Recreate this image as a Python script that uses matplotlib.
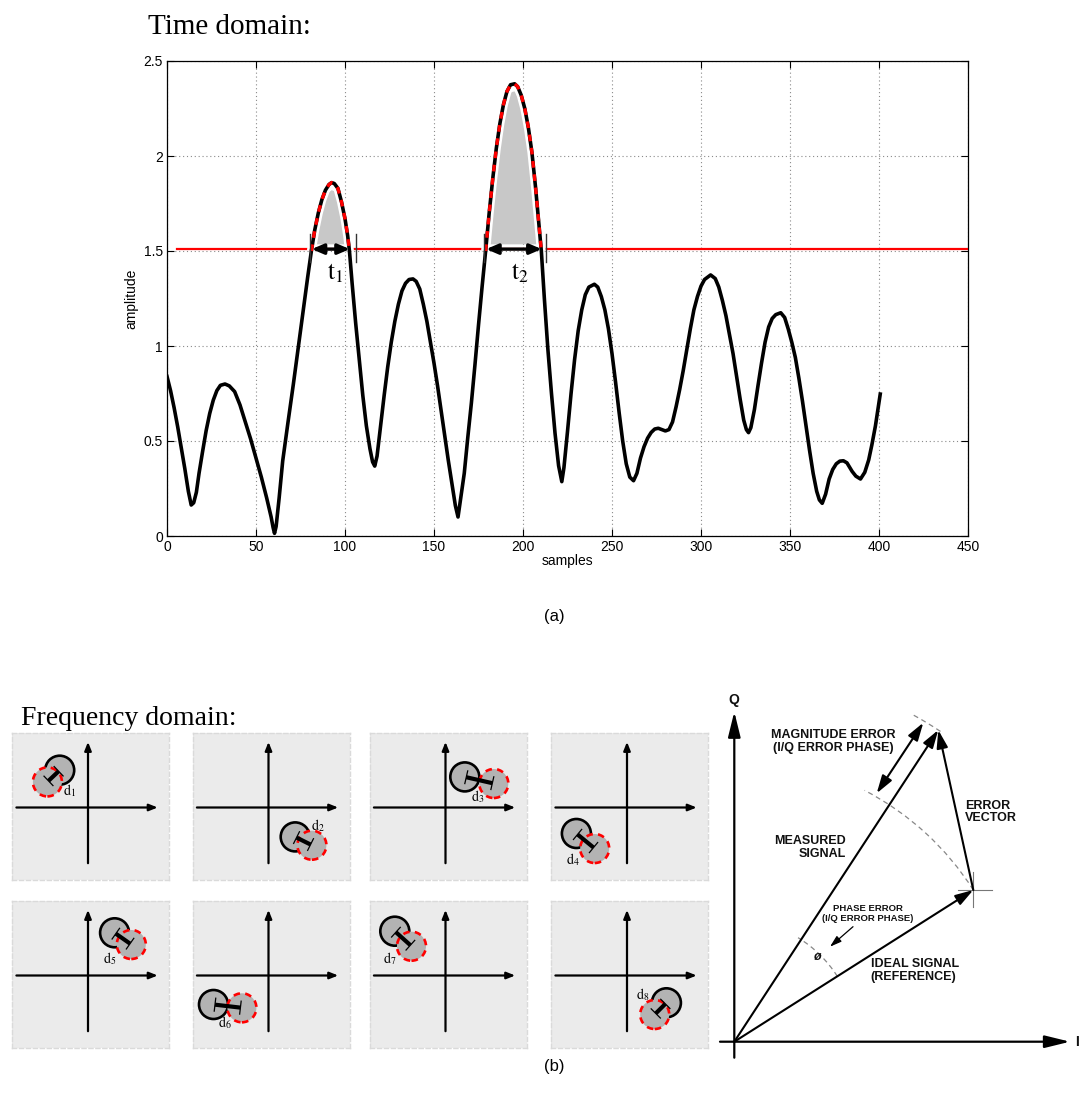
import numpy as np
import matplotlib
matplotlib.use("Agg")
import matplotlib.pyplot as plt
from matplotlib.patches import Circle, Arc

plt.rcParams['font.family'] = ['Liberation Sans', 'DejaVu Sans']
plt.rcParams['mathtext.fontset'] = 'stix'

W, H = 1086, 1106

# ---------------- time-domain trace ----------------
samples = [0, 2, 4, 6, 8, 10, 12, 13.6, 15, 16.5, 18, 20, 22, 24, 26, 28, 30, 32.6,
           35, 38, 41, 44, 47, 50, 53, 56, 58.5, 59.6, 60.4, 61.3, 63, 65, 68, 71, 74,
           77, 79, 81.1, 83, 85, 87, 89, 91, 92.5, 94, 96, 98, 100, 101.5, 102.5, 104,
           106, 108, 110, 112, 114, 115.5, 116.7, 118, 120, 122, 124, 126, 128, 130,
           132, 134, 136, 138.2, 140, 142, 144, 146, 148, 150, 152, 154, 156, 158, 160,
           162, 163.5, 165, 167, 169, 171, 173, 175, 177, 179, 181, 183, 185, 187, 189,
           191, 193, 195.3, 197, 199, 201, 203, 205, 207, 209, 210.3, 212, 214, 216,
           218, 220, 221.8, 223, 225, 227, 229, 231, 233, 235, 237, 240.1, 242, 244,
           246, 248, 250, 252, 254, 256, 258, 260, 262.1, 264, 266, 268, 270, 272, 274,
           276, 278, 280, 282, 284, 286, 288, 290, 292, 294, 296, 298, 300, 302, 305.4,
           308, 310, 312, 314, 316, 318, 320, 322, 324, 325.5, 326.7, 328, 330, 332,
           334, 336, 338, 340, 342, 344.8, 347, 349, 351, 353, 355, 357, 359, 361, 363,
           365, 366.5, 368.1, 370, 372, 374, 376, 378, 380, 382, 384.9, 387, 389.6, 392,
           394.2, 396, 398, 400.7]
amplitude = [0.84, 0.765, 0.675, 0.575, 0.465, 0.355, 0.235, 0.163, 0.175, 0.23, 0.33,
             0.445, 0.555, 0.645, 0.715, 0.765, 0.793, 0.80,
             0.79, 0.76, 0.69, 0.60, 0.51, 0.41, 0.31, 0.20, 0.10, 0.045, 0.014, 0.05,
             0.20, 0.395, 0.60, 0.80, 1.01,
             1.22, 1.36, 1.50, 1.61, 1.70, 1.77, 1.82, 1.85, 1.86, 1.855, 1.83, 1.76,
             1.67, 1.58, 1.50, 1.33,
             1.12, 0.93, 0.74, 0.58, 0.46, 0.39, 0.368, 0.42, 0.58, 0.74, 0.89, 1.02,
             1.13, 1.22,
             1.29, 1.33, 1.35, 1.353, 1.34, 1.30, 1.22, 1.13, 1.02, 0.91, 0.79, 0.66,
             0.53, 0.40, 0.28,
             0.16, 0.10, 0.20, 0.33, 0.52, 0.70, 0.90, 1.11, 1.31, 1.50, 1.70, 1.88,
             2.04, 2.17, 2.27,
             2.34, 2.375, 2.38, 2.365, 2.32, 2.25, 2.15, 2.02, 1.84, 1.63, 1.50, 1.25,
             0.98, 0.75,
             0.54, 0.37, 0.286, 0.36, 0.55, 0.75, 0.93, 1.08, 1.19, 1.27, 1.31, 1.325,
             1.31, 1.26,
             1.19, 1.09, 0.96, 0.81, 0.65, 0.50, 0.38, 0.31, 0.291, 0.33, 0.41, 0.47,
             0.515, 0.545, 0.563,
             0.567, 0.56, 0.553, 0.56, 0.60, 0.68, 0.77, 0.87, 0.98, 1.09, 1.19, 1.26,
             1.315, 1.35, 1.374,
             1.355, 1.31, 1.24, 1.16, 1.06, 0.96, 0.84, 0.72, 0.61, 0.56, 0.544, 0.57,
             0.665, 0.79,
             0.91, 1.02, 1.10, 1.145, 1.165, 1.175, 1.15, 1.09, 1.02, 0.94, 0.83, 0.71,
             0.58, 0.45, 0.33,
             0.235, 0.19, 0.172, 0.22, 0.30, 0.35, 0.38, 0.394, 0.396, 0.385, 0.34,
             0.315, 0.30, 0.335,
             0.40, 0.48, 0.58, 0.747]

threshold = 1.51
threshold_start = 5.5
x_ticks = [0, 50, 100, 150, 200, 250, 300, 350, 400, 450]
y_ticks = [0, 0.5, 1, 1.5, 2, 2.5]
y_tick_labels = ['0', '0.5', '1', '1.5', '2', '2.5']

# durations above the threshold
t_spans = [(81.3, 102.7), (179.3, 210.5)]
t_bars = [(80.5, 106.0), (178.0, 213.0)]
t_label_x = [94.4, 198.3]
t_labels = [r'$\mathrm{t}_1$', r'$\mathrm{t}_2$']

# ---------------- frequency-domain panels ----------------
black_centres = [(-28.3, 37.3), (26.7, -29.4), (19.3, 30.6), (-50.6, -26.0),
                 (26.6, 42.7), (-55.0, -29.0), (-50.7, 44.3), (39.4, -27.3)]
red_centres = [(-40.6, 25.6), (43.4, -37.7), (48.3, 24.0), (-32.3, -41.0),
               (43.3, 31.0), (-26.6, -32.3), (-34.0, 29.3), (27.7, -39.0)]
d_label_pos = [(-18, 17), (49.7, -17.7), (32.6, 11.3), (-54.6, -52),
               (21.6, 17), (-43.3, -47.3), (-55.7, 16.7), (16, -19)]
d_labels = [r'$\mathrm{d}_%d$' % k for k in range(1, 9)]

# ---------------- error-vector diagram ----------------
ideal_vec = (239.0, 151.7)
measured_vec = (204.0, 311.7)


def fx(px):
    return px / W


def fy(py):
    return 1 - py / H


fig = plt.figure(figsize=(W / 100, H / 100), dpi=100)

# ===== (a) time domain =====
fig.text(fx(148), fy(34), 'Time domain:', family='Liberation Serif', fontsize=21,
         ha='left', va='baseline')

ax = fig.add_axes([fx(167), fy(536), 801 / W, 475 / H])
x = np.array(samples)
y = np.array(amplitude)
ax.set_xlim(0, 450)
ax.set_ylim(0, 2.5)
ax.set_xticks(x_ticks)
ax.set_yticks(y_ticks)
ax.set_yticklabels(y_tick_labels)
ax.grid(True, linestyle=(0, (1, 2.5)), color='#8a8a8a', lw=0.8)
ax.set_axisbelow(True)
ax.tick_params(direction='in', top=True, right=True, length=5, width=0.8,
               labelsize=10, pad=3)
for s in ax.spines.values():
    s.set_linewidth(0.9)

ax.plot([threshold_start, 450], [threshold, threshold], color='red', lw=1.6, zorder=3)

top = y - 0.04
ax.fill_between(x, 1.535, top, where=top > 1.535, interpolate=True,
                color='#c8c8c8', lw=0, zorder=2)
peaks = np.where(y >= 1.5, y, np.nan)
ax.plot(x, peaks, color='white', lw=6.5, zorder=3.5, solid_capstyle='butt')
ax.plot(x, y, color='black', lw=2.6, zorder=4, solid_joinstyle='round')
ax.plot(x, peaks, color='red', lw=2.4, ls=(0, (2.0, 2.0)), zorder=5)

for (a0, a1), (b0, b1), lx, lab in zip(t_spans, t_bars, t_label_x, t_labels):
    ax.annotate('', xy=(a1, threshold), xytext=(a0, threshold),
                arrowprops=dict(arrowstyle='<|-|>,head_length=0.7,head_width=0.3',
                                mutation_scale=10, lw=2.4, color='black',
                                shrinkA=0, shrinkB=0), zorder=6)
    for xb in (b0, b1):
        ax.plot([xb, xb], [1.44, 1.59], color='#333333', lw=1.0, zorder=6)
    ax.text(lx, 1.385, lab, fontsize=18, ha='center', va='center', zorder=6)

ax.set_xlabel('samples', fontsize=10)
ax.xaxis.set_label_coords(0.5, -0.038)
ax.set_ylabel('amplitude', fontsize=10)
ax.yaxis.set_label_coords(-0.036, 0.5)

fig.text(fx(554), fy(617), '(a)', fontsize=12, ha='center', va='center')

# ===== (b) frequency domain =====
fig.text(fx(21), fy(725), 'Frequency domain:', family='Liberation Serif', fontsize=20,
         ha='left', va='baseline')

panel_left = [12, 192.5, 369.5, 551]
panel_top = [733, 901]
pw, ph = 157, 147
ox, oy = 76, 74.5
r = 14.5

for i in range(8):
    row, col = divmod(i, 4)
    L, T = panel_left[col], panel_top[row]
    pax = fig.add_axes([fx(L), fy(T + ph), pw / W, ph / H])
    pax.set_xlim(-ox, pw - ox)
    pax.set_ylim(-(ph - oy), oy)
    pax.set_facecolor('#ebebeb')
    pax.set_xticks([])
    pax.set_yticks([])
    for s in pax.spines.values():
        s.set_color('#dadada')
        s.set_linestyle((0, (3, 2)))
        s.set_linewidth(1.0)

    ar = dict(arrowstyle='-|>,head_length=0.5,head_width=0.2', mutation_scale=10,
              lw=1.6, color='black', shrinkA=0, shrinkB=0)
    pax.annotate('', xy=(69.7, 0), xytext=(-71.6, 0), arrowprops=ar)
    pax.annotate('', xy=(0, 65.6), xytext=(0, -55.7), arrowprops=ar)

    bc, rc = np.array(black_centres[i]), np.array(red_centres[i])
    pax.add_patch(Circle(bc, r, fc='#b3b3b3', ec='black', lw=1.9, zorder=3))
    pax.add_patch(Circle(rc, r, fc='#b3b3b3', ec='red', lw=1.9,
                         ls=(0, (2.5, 2)), zorder=4))
    d = rc - bc
    u = d / np.hypot(*d)
    nrm = np.array([-u[1], u[0]])
    p0, p1 = bc + 1.5 * u, rc - 1.5 * u
    pax.plot([p0[0], p1[0]], [p0[1], p1[1]], color='black', lw=3.0, zorder=5,
             solid_capstyle='butt')
    for p in (p0, p1):
        a, b = p - 6.5 * nrm, p + 6.5 * nrm
        pax.plot([a[0], b[0]], [a[1], b[1]], color='black', lw=0.9, zorder=5)
    pax.text(*d_label_pos[i], d_labels[i], fontsize=10, ha='center', va='center',
             zorder=6)

# ===== error vector diagram =====
cax = fig.add_axes([fx(700), fy(1070), 386 / W, 390 / H])
cax.set_xlim(-34.3, 351.7)
cax.set_ylim(-28.3, 361.7)
cax.axis('off')

axis_ar = dict(arrowstyle='-|>,head_length=1.1,head_width=0.27', mutation_scale=14,
               lw=1.6, color='black', shrinkA=0, shrinkB=0)
cax.annotate('', xy=(0, 330), xytext=(0, -16), arrowprops=axis_ar)
cax.annotate('', xy=(335.7, 0), xytext=(-14.3, 0), arrowprops=axis_ar)
bold = dict(fontweight='bold', color='#111111')
cax.text(0, 342, 'Q', fontsize=10, ha='center', va='center', **bold)
cax.text(342.5, 0, 'I', fontsize=10, ha='center', va='center', **bold)

vec_ar = dict(arrowstyle='-|>,head_length=0.9,head_width=0.28', mutation_scale=12,
              lw=1.5, color='black', shrinkA=0, shrinkB=0)
cax.annotate('', xy=ideal_vec, xytext=(0, 0), arrowprops=vec_ar)
cax.annotate('', xy=measured_vec, xytext=(0, 0), arrowprops=vec_ar)
cax.annotate('', xy=measured_vec, xytext=ideal_vec, arrowprops=vec_ar)

dbl_ar = dict(arrowstyle='<|-|>,head_length=0.9,head_width=0.28', mutation_scale=12,
              lw=1.5, color='black', shrinkA=0, shrinkB=0)
cax.annotate('', xy=(189.0, 319.0), xytext=(142.4, 248.4), arrowprops=dbl_ar)

# crosshair at ideal tip
cax.plot([223.7, 257.7], [ideal_vec[1]] * 2, color='#777777', lw=0.8)
cax.plot([ideal_vec[0]] * 2, [134.7, 169.7], color='#777777', lw=0.8)

r_ideal = np.hypot(*ideal_vec)
r_meas = np.hypot(*measured_vec)
ang_ideal = np.degrees(np.arctan2(ideal_vec[1], ideal_vec[0]))
ang_meas = np.degrees(np.arctan2(measured_vec[1], measured_vec[0]))
dash = dict(color='#888888', lw=0.9, ls=(0, (4, 3)))
cax.add_patch(Arc((0, 0), 2 * r_ideal, 2 * r_ideal, theta1=ang_ideal, theta2=62.6, **dash))
cax.add_patch(Arc((0, 0), 2 * r_meas, 2 * r_meas, theta1=ang_meas - 0.4, theta2=61.2, **dash))
cax.add_patch(Arc((0, 0), 244, 244, theta1=ang_ideal, theta2=58.5, **dash))

cax.annotate('', xy=(95.7, 95.0), xytext=(118.7, 115.0),
             arrowprops=dict(arrowstyle='-|>,head_length=0.7,head_width=0.22',
                             mutation_scale=10, lw=0.9, color='black',
                             shrinkA=0, shrinkB=0))
cax.text(83.7, 85, 'ø', fontsize=9, ha='center', va='center', style='italic', **bold)

cax.text(133.7, 128.4, 'PHASE ERROR\n(I/Q ERROR PHASE)', fontsize=6.8, ha='center',
         va='center', linespacing=1.1, **bold)
cax.text(98.7, 300, 'MAGNITUDE ERROR\n(I/Q ERROR PHASE)', fontsize=9, ha='center',
         va='center', linespacing=1.05, **bold)
cax.text(231, 229.7, 'ERROR\nVECTOR', fontsize=9, ha='left', va='center',
         linespacing=1.05, **bold)
cax.text(111.4, 194.4, 'MEASURED\nSIGNAL', fontsize=9, ha='right', va='center',
         linespacing=1.05, multialignment='right', **bold)
cax.text(136.4, 71, 'IDEAL SIGNAL\n(REFERENCE)', fontsize=9, ha='left', va='center',
         linespacing=1.05, **bold)

fig.text(fx(554), fy(1067), '(b)', fontsize=12, ha='center', va='center')

fig.savefig('out.png', dpi=100)
